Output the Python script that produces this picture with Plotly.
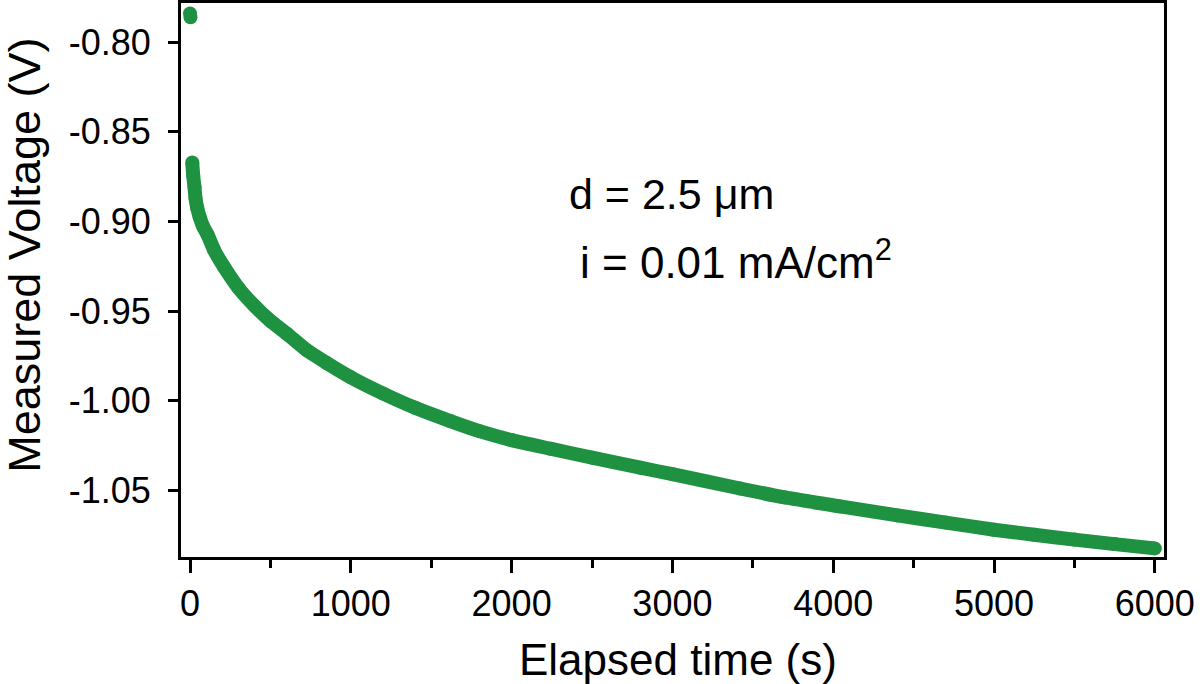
import plotly.graph_objects as go

# Early isolated readings
early_time = [0, 3]
early_volt = [-0.7840, -0.7862]

# Main discharge curve
time_s = [14, 20, 28, 34, 45, 60, 80, 109, 150, 212, 300, 400, 500, 600, 728, 850,
          1000, 1200, 1400, 1619, 1800, 2000, 2241, 2500, 2800, 3000, 3421, 3700,
          4043, 4400, 4700, 5000, 5250, 5500, 5750, 6000]
voltage_v = [-0.8672, -0.8745, -0.8810, -0.8870, -0.8925, -0.8975, -0.9025, -0.9074,
             -0.9160, -0.9255, -0.9370, -0.9470, -0.9555, -0.9625, -0.9720, -0.9790,
             -0.9870, -0.9960, -1.0040, -1.0114, -1.0170, -1.0220, -1.0268, -1.0318,
             -1.0374, -1.0410, -1.0490, -1.0540, -1.0590, -1.0640, -1.0680, -1.0720,
             -1.0748, -1.0775, -1.0800, -1.0824]

x_ticks = [0, 1000, 2000, 3000, 4000, 5000, 6000]
y_ticks = [-0.80, -0.85, -0.90, -0.95, -1.00, -1.05]
y_tick_text = ["-0.80", "-0.85", "-0.90", "-0.95", "-1.00", "-1.05"]

GREEN = "#1e9241"
FONT = "Liberation Sans, Arial, Helvetica, sans-serif"

fig = go.Figure()
fig.add_trace(go.Scatter(x=early_time, y=early_volt, mode="markers",
                         marker=dict(size=14, color=GREEN), showlegend=False))
fig.add_trace(go.Scatter(x=time_s, y=voltage_v, mode="lines+markers",
                         line=dict(color=GREEN, width=14, shape="spline", smoothing=0.6),
                         marker=dict(size=14, color=GREEN), showlegend=False))

fig.add_annotation(x=2346, y=-0.8849, xref="x", yref="y", text="d = 2.5 μm",
                   showarrow=False, xanchor="left", yanchor="middle",
                   font=dict(size=43, color="black", family=FONT))
fig.add_annotation(x=2415, y=-0.9211, xref="x", yref="y", text="i = 0.01 mA/cm<sup>2</sup>",
                   showarrow=False, xanchor="left", yanchor="middle",
                   font=dict(size=44, color="black", family=FONT))

# axis titles
fig.add_annotation(x=0.506, y=-0.1854, xref="paper", yref="paper", text="Elapsed time (s)",
                   showarrow=False, xanchor="center", yanchor="middle",
                   font=dict(size=44, color="black", family=FONT))
fig.add_annotation(x=-0.1587, y=0.5455, xref="paper", yref="paper", text="Measured Voltage (V)",
                   showarrow=False, xanchor="center", yanchor="middle", textangle=-90,
                   font=dict(size=45, color="black", family=FONT))

fig.update_layout(
    width=1200, height=684,
    margin=dict(l=181, r=36, t=3, b=127),
    plot_bgcolor="white", paper_bgcolor="white",
    font=dict(family=FONT, color="black"),
)
fig.update_xaxes(
    range=[-56, 6057], tickvals=x_ticks, ticks="outside", ticklen=13, tickwidth=3,
    tickcolor="black", showline=True, linewidth=3, linecolor="black", mirror=True,
    showgrid=False, zeroline=False, tickfont=dict(size=36), automargin=False,
    minor=dict(dtick=500, tick0=0, ticks="outside", ticklen=8, tickwidth=3, tickcolor="black", showgrid=False),
)
fig.update_yaxes(
    range=[-1.0872, -0.7782], tickvals=y_ticks, ticktext=y_tick_text, ticks="outside",
    ticklen=10, tickwidth=3, tickcolor="black", showline=True, linewidth=3,
    linecolor="black", mirror=True, showgrid=False, zeroline=False,
    tickfont=dict(size=36), automargin=False, ticklabelstandoff=10,
)

fig.write_html("out.html", config={"displayModeBar": False},
               post_script="document.body.style.margin='0';document.body.style.padding='0';")
